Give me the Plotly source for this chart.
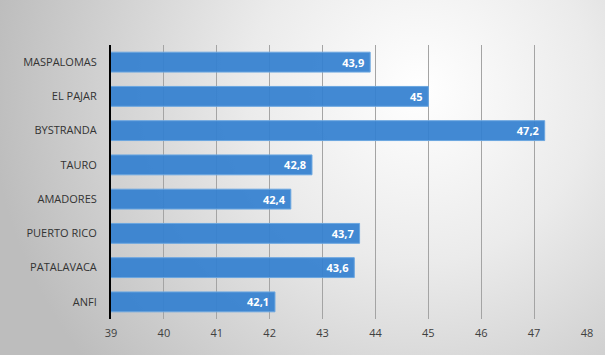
import base64
import plotly.graph_objects as go

categories = ["MASPALOMAS", "EL PAJAR", "BYSTRANDA", "TAURO", "AMADORES",
              "PUERTO RICO", "PATALAVACA", "ANFI"]
values = [43.9, 45, 47.2, 42.8, 42.4, 43.7, 43.6, 42.1]
labels = ["43,9", "45", "47,2", "42,8", "42,4", "43,7", "43,6", "42,1"]
x_ticks = [39, 40, 41, 42, 43, 44, 45, 46, 47, 48]

W, H = 605, 355
L, R, T, B = 111, 18, 45, 36
pw, ph = W - L - R, H - T - B

svg = f'''<svg xmlns="http://www.w3.org/2000/svg" width="{W}" height="{H}" viewBox="0 0 {W} {H}">
<defs><radialGradient id="g" gradientUnits="userSpaceOnUse" cx="420" cy="90" r="430">
<stop offset="0" stop-color="#ffffff"/><stop offset="0.4" stop-color="#ebebeb"/><stop offset="1" stop-color="#bdbdbd"/></radialGradient></defs>
<rect width="{W}" height="{H}" fill="url(#g)"/></svg>'''
src = "data:image/svg+xml;base64," + base64.b64encode(svg.encode()).decode()

fig = go.Figure(go.Bar(
    y=categories, x=values, orientation="h",
    text=labels, textposition="inside", insidetextanchor="end",
    textangle=0, constraintext="none",
    insidetextfont=dict(color="white", size=11, family="Open Sans"),
    texttemplate="<b>%{text}</b>\u00a0",
    marker=dict(color="rgba(52,128,208,0.93)", line=dict(color="#6aa6e0", width=1)),
    width=0.58, hoverinfo="skip",
))

fig.update_layout(
    width=W, height=H,
    margin=dict(l=L, r=R, t=T, b=B),
    paper_bgcolor="rgba(0,0,0,0)", plot_bgcolor="rgba(0,0,0,0)",
    showlegend=False,
    images=[dict(source=src, xref="paper", yref="paper",
                 x=-L / pw, y=1 + T / ph, sizex=W / pw, sizey=H / ph,
                 sizing="stretch", xanchor="left", yanchor="top", layer="below")],
    xaxis=dict(range=[39, 48], tickvals=x_ticks, showgrid=True,
               gridcolor="#a4a4a4", gridwidth=1, zeroline=False,
               showline=False, ticks="", ticklabelstandoff=6,
               tickfont=dict(size=11, color="#404040", family="Open Sans")),
    yaxis=dict(categoryorder="array", categoryarray=categories[::-1],
               autorange=True, showline=True, linecolor="black", linewidth=2,
               ticks="", ticklabelstandoff=10,
               tickfont=dict(size=11, color="#333333", family="Open Sans")),
)

fig.write_html("out.html", config={"displayModeBar": False},
               post_script="document.body.style.margin='0';document.body.style.overflow='hidden';")
